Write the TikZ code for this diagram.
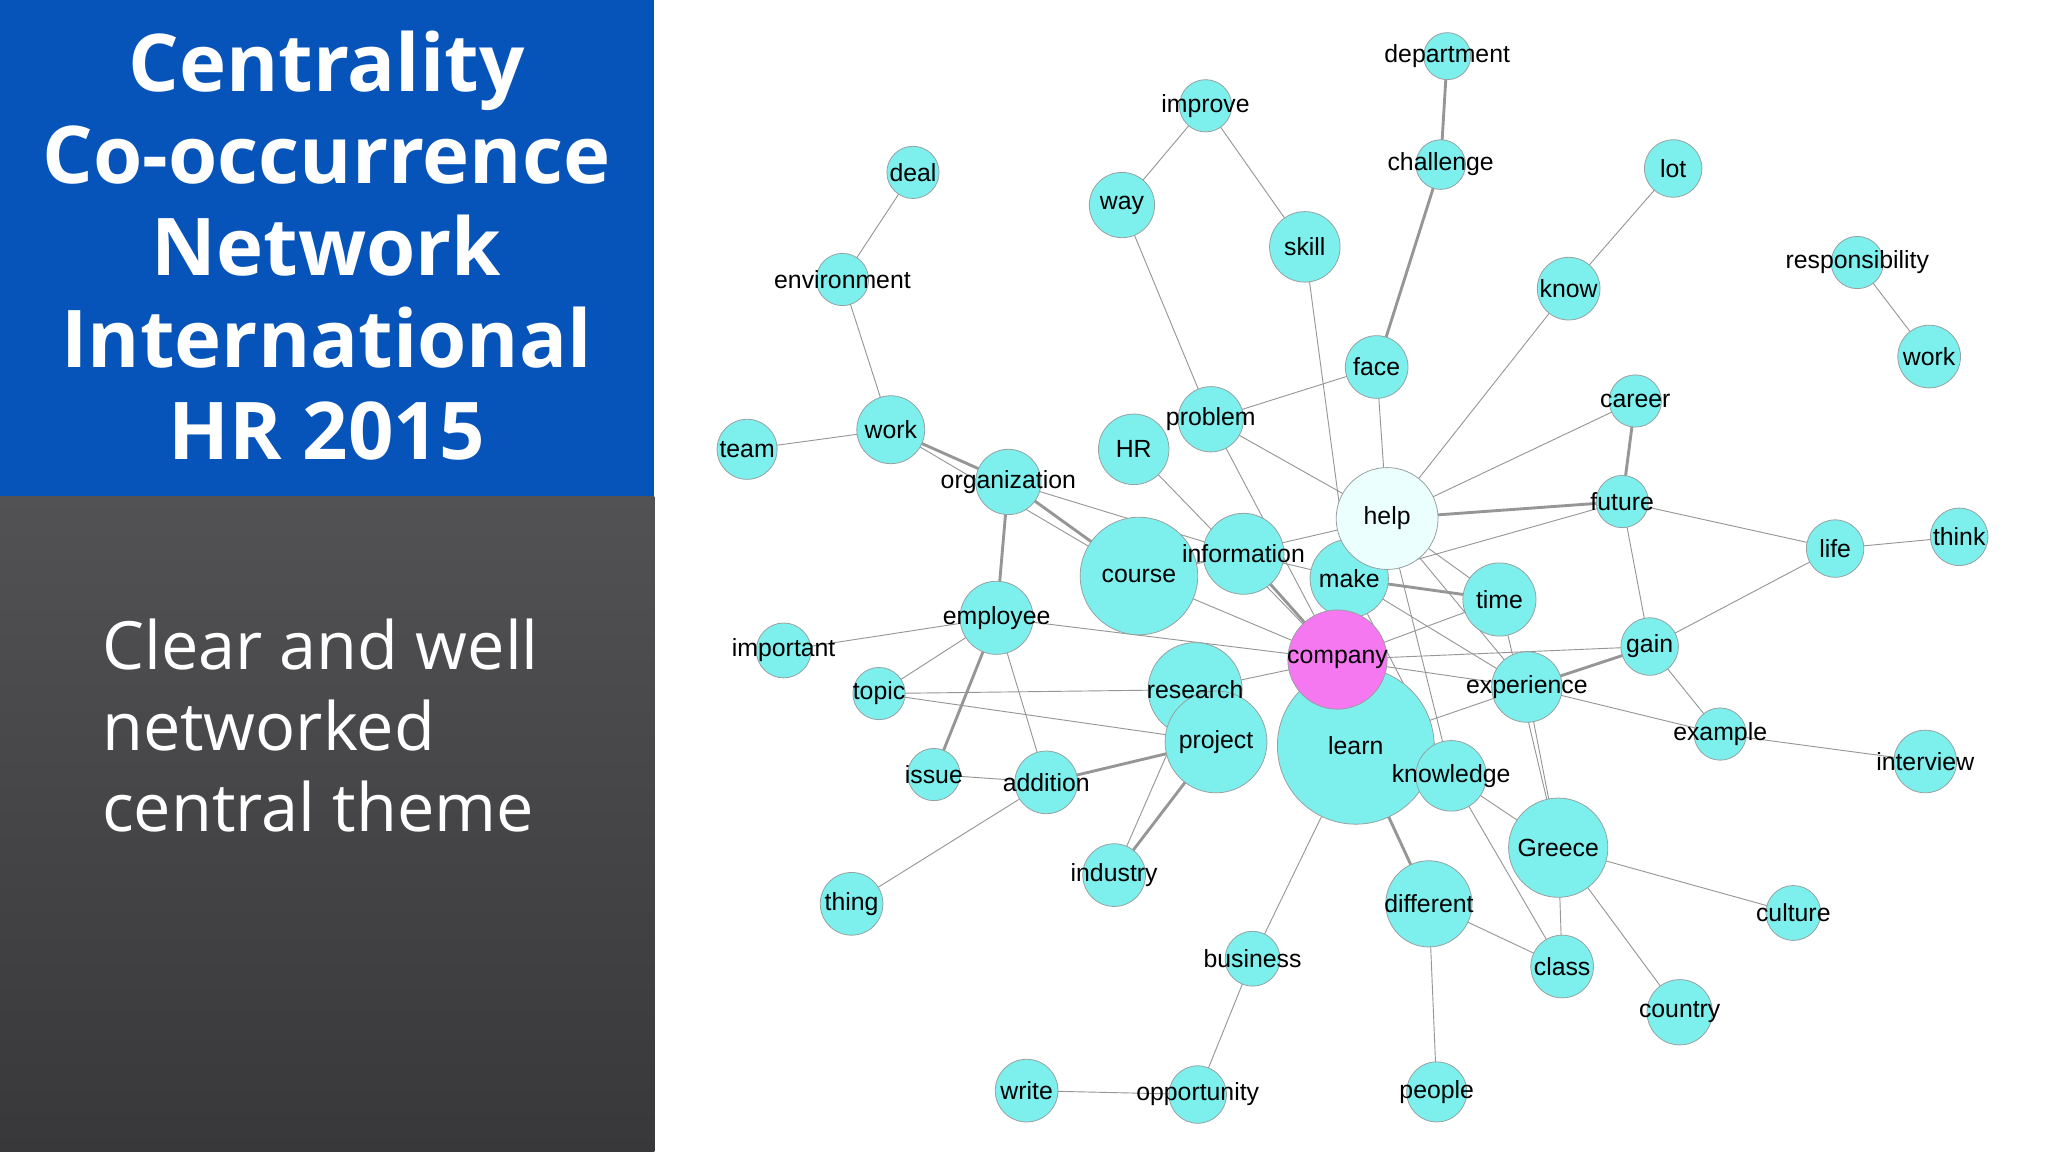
\documentclass[tikz,border=0pt]{standalone}
\usepackage{fontspec}
\setmainfont{Open Sans}
\newfontfamily\lab{Liberation Sans}
\definecolor{hrblue}{RGB}{6,84,186}
\definecolor{ncyan}{RGB}{125,240,238}
\definecolor{nedge}{RGB}{150,160,160}
\definecolor{egray}{RGB}{150,150,150}
\definecolor{npink}{RGB}{245,120,240}
\definecolor{nwhite}{RGB}{235,255,255}
\begin{document}
\begin{tikzpicture}[x=1pt,y=-1pt,
  vert/.style={circle,draw=nedge,fill=ncyan,inner sep=0pt,line width=0.6pt},
  ed/.style={draw=egray,line width=0.7pt},
  edt/.style={draw=egray,line width=2.2pt},
  lbl/.style={font=\lab\fontsize{19}{20}\selectfont,inner sep=0pt}]
\useasboundingbox (0,0) rectangle (1568,882);
\fill[white] (0,0) rectangle (1568,882);
\fill[hrblue] (0,0) rectangle (501,380);
\shade[top color={rgb,255:red,82;green,82;blue,84},bottom color={rgb,255:red,56;green,56;blue,58}] (0,380) rectangle (501,882);
\node[text=white,font=\bfseries\fontsize{61}{70.5}\selectfont,align=center] (title) at (250,188) {Centrality\\Co-occurrence\\Network\\International\\HR 2015};
\node[text=white,font=\fontsize{51}{62}\selectfont,align=left,anchor=north west,inner sep=0pt] (body) at (78,474) {Clear and well\\networked\\central theme};
% coordinates
\foreach \n/\x/\y in {department/1108/43, improve/923/81, challenge/1103/126, deal/699/132, lot/1281/129, way/859/157, skill/999/189, know/1201/221, responsibility/1422/201, environment/645/214, worktwo/1477/273, face/1054/281, career/1252/307, work/682/329, team/572/344, problem/927/321, HR/868/344, organization/772/369, help/1062/397, future/1242/384, life/1405/420, think/1500/411, course/872/441, information/952/424, make/1033/443, time/1148/459, employee/763/473, important/600/498, gain/1263/495, company/1024/505, topic/673/531, research/915/528, experience/1169/526, example/1317/562, interview/1474/583, project/931/568, learn/1038/571, knowledge/1111/594, issue/715/593, addition/801/599, Greece/1193/649, industry/853/670, thing/652/692, different/1094/692, culture/1373/699, business/959/734, class/1196/740, country/1286/775, write/786/835, opportunity/917/838, people/1100/836}
  {\coordinate (\n) at (\x,\y);}
% edges
\foreach \a/\b in {improve/way, improve/skill, deal/environment, environment/work, work/team, work/course, way/problem, skill/make, face/problem, face/help, lot/know, know/help, responsibility/worktwo, future/life, life/think, future/gain, future/make, career/help, HR/company, problem/company, problem/help, organization/information, employee/important, employee/topic, employee/addition, employee/company, topic/research, issue/addition, addition/thing, research/industry, learn/business, business/opportunity, opportunity/write, learn/different, different/people, knowledge/Greece, Greece/class, Greece/country, Greece/culture, different/class, knowledge/class, experience/Greece, gain/life, experience/example, example/interview, gain/example, help/experience, time/help, company/information, company/course, company/research, company/experience, learn/experience, company/time, help/company, information/make, course/information, course/help, company/gain, time/Greece, help/knowledge, make/experience, make/knowledge, topic/project, learn/knowledge}
  {\draw[ed] (\a) -- (\b);}
\foreach \a/\b in {department/challenge, challenge/face, work/organization, career/future, future/help, organization/employee, employee/issue, addition/project, project/industry, make/time, information/company, organization/course, experience/gain, learn/different}
  {\draw[edt] (\a) -- (\b);}
% nodes
\foreach \n/\r in {department/18, improve/20, challenge/19, deal/20, lot/22, way/25, skill/27, know/24, responsibility/20, environment/20, worktwo/24, face/24, career/20, work/26, team/23, problem/25, HR/27, organization/25, future/20, life/22, think/22, course/45, information/31, make/30, time/28, employee/28, important/21, gain/22, topic/20, research/36, experience/27, example/20, interview/24, project/39, learn/60, knowledge/27, issue/20, addition/24, Greece/38, industry/24, thing/24, different/33, culture/21, business/21, class/24, country/25, write/24, opportunity/22, people/23}
  {\node[vert,minimum size=2*\r] (\n c) at (\n) {};}
\node[vert,fill=nwhite,minimum size=78] (helpc) at (help) {};
\node[vert,fill=npink,minimum size=76] (companyc) at (company) {};
\foreach \n/\t in {department/department, improve/improve, challenge/challenge, deal/deal, lot/lot, way/way, skill/skill, know/know, responsibility/responsibility, environment/environment, worktwo/work, face/face, career/career, work/work, team/team, problem/problem, HR/HR, organization/organization, future/future, life/life, think/think, course/course, information/information, make/make, time/time, employee/employee, important/important, gain/gain, topic/topic, research/research, experience/experience, example/example, interview/interview, project/project, learn/learn, knowledge/knowledge, issue/issue, addition/addition, Greece/Greece, industry/industry, thing/thing, different/different, culture/culture, business/business, class/class, country/country, write/write, opportunity/opportunity, people/people, help/help, company/company}
  {\node[lbl] (\n l) at (\n) {\t};}
\end{tikzpicture}
\end{document}
